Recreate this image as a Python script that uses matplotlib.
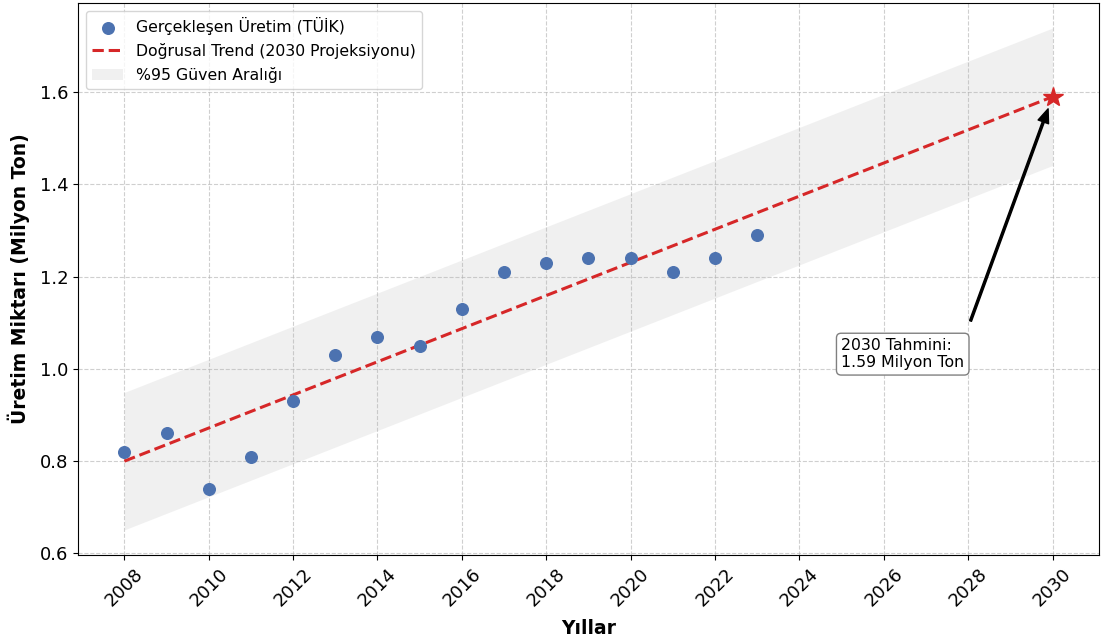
import matplotlib
matplotlib.use("Agg")
import matplotlib.pyplot as plt

plt.rcParams["font.family"] = ["DejaVu Sans"]

# Yearly production (million tons)
years = [2008, 2009, 2010, 2011, 2012, 2013, 2014, 2015,
         2016, 2017, 2018, 2019, 2020, 2021, 2022, 2023]
production = [0.82, 0.86, 0.74, 0.81, 0.93, 1.03, 1.07, 1.05,
              1.13, 1.21, 1.23, 1.24, 1.24, 1.21, 1.24, 1.29]
# Linear trend from the first observed year to the projection year
trend_years = [2008, 2030]
trend_values = [0.80, 1.59]
ci_half_width = 0.149
xtick_years = list(range(2008, 2031, 2))

target_year = trend_years[-1]
forecast = trend_values[-1]
lower = [v - ci_half_width for v in trend_values]
upper = [v + ci_half_width for v in trend_values]

fig = plt.figure(figsize=(11.01, 6.43), dpi=100)
ax = fig.add_axes([0.0708, 0.1369, 0.9273, 0.8585])

ax.scatter(years, production, s=70, color="#4C72B0", zorder=3,
           label="Gerçekleşen Üretim (TÜİK)")
ax.plot(trend_years, trend_values, color="#d62728", linestyle="--",
        linewidth=2.2, label="Doğrusal Trend (2030 Projeksiyonu)", zorder=2)
ax.fill_between(trend_years, lower, upper, color="lightgray", alpha=0.33,
                linewidth=0, label="%95 Güven Aralığı", zorder=1)
ax.plot([target_year], [forecast], marker="*", markersize=15,
        color="#d62728", zorder=4)

ax.annotate(f"{target_year} Tahmini:\n{forecast:.2f} Milyon Ton",
            xy=(target_year, forecast), xytext=(2026.45, 1.032),
            ha="center", va="center", multialignment="left", fontsize=11.3,
            bbox=dict(boxstyle="round,pad=0.3", fc="white", ec="gray"),
            arrowprops=dict(facecolor="black", shrink=0.05, width=1.5,
                            headwidth=8, headlength=10))

ax.set_xticks(xtick_years)
ax.tick_params(axis="x", labelsize=13, labelrotation=45)
ax.tick_params(axis="y", labelsize=13)
ax.set_xlabel("Yıllar", fontsize=13.5, fontweight="bold", labelpad=7)
ax.set_ylabel("Üretim Miktarı (Milyon Ton)", fontsize=13.5,
              fontweight="bold", labelpad=7)
ax.grid(True, linestyle="--", alpha=0.6)
ax.legend(loc="upper left", fontsize=11.3)

fig.savefig("out.png", dpi=100)
